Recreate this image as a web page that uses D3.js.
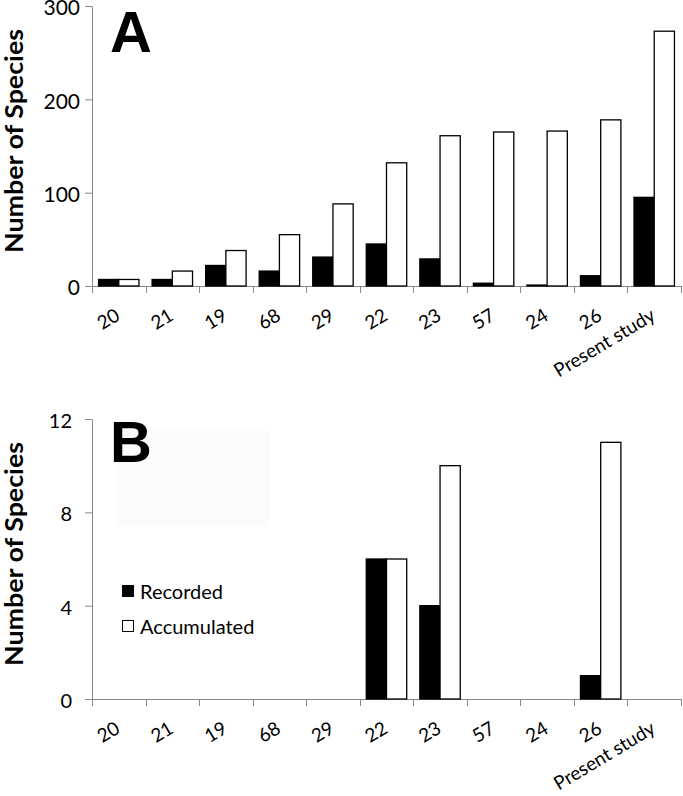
<!DOCTYPE html>
<html>
<head>
<meta charset="utf-8">
<script src="https://cdn.jsdelivr.net/npm/d3@7"></script>
<style>
  html, body { margin: 0; padding: 0; background: #fff; }
  svg { display: block; }
</style>
</head>
<body>
<script>
// ---- data ----
const categories = ["20", "21", "19", "68", "29", "22", "23", "57", "24", "26", "Present study"];
const seriesNames = ["Recorded", "Accumulated"];
const recordedA    = [7, 7, 22, 16, 31, 45, 29, 3, 1, 11, 95];
const accumulatedA = [7, 16, 38, 55, 88, 132, 161, 165, 166, 178, 273];
const recordedB    = [0, 0, 0, 0, 0, 6, 4, 0, 0, 1, 0];
const accumulatedB = [0, 0, 0, 0, 0, 6, 10, 0, 0, 11, 0];
const ticksA = [0, 100, 200, 300];
const ticksB = [0, 4, 8, 12];
const yTitle = "Number of Species";

// ---- layout ----
const W = 683, H = 796;
const AXIS_COLOR = "#888888";
const FONT = "Lato, 'Open Sans', sans-serif";

const svg = d3.select("body").append("svg").attr("width", W).attr("height", H);

const x0 = d3.scaleBand().domain(categories).range([92, 681])
  .paddingInner(0.245).paddingOuter(0.1225);
const x1 = d3.scaleBand().domain(seriesNames).range([0, x0.bandwidth()]);
const colors = d3.scaleOrdinal().domain(seriesNames).range(["#000000", "#ffffff"]);

function drawPanel(opt) {
  const g = svg.append("g");
  const y = d3.scaleLinear().domain([0, opt.ticks[opt.ticks.length - 1]])
    .range([opt.yBottom, opt.yTop]);

  // faint artifact rectangle (panel B)
  if (opt.ghost) {
    g.append("rect").attr("x", opt.ghost[0]).attr("y", opt.ghost[1])
      .attr("width", opt.ghost[2]).attr("height", opt.ghost[3]).attr("fill", "#fcfcfc");
  }

  // y axis
  const yAxis = d3.axisLeft(y).tickValues(opt.ticks).tickSize(7).tickSizeOuter(0)
    .tickPadding(opt.tickPad);
  const ya = g.append("g").attr("transform", "translate(92,0)").call(yAxis);
  ya.selectAll("path, line").attr("stroke", AXIS_COLOR);
  ya.selectAll("text").attr("font-family", FONT).attr("font-size", opt.tickFont)
    .attr("fill", "#000").attr("dy", "0.42em");

  // x axis line and tick marks at band boundaries
  const step = x0.step();
  const off = (step - x0.bandwidth()) / 2;
  const bounds = categories.map(c => x0(c) - off);
  bounds.push(bounds[bounds.length - 1] + step);
  g.append("line").attr("x1", x0.range()[0]).attr("x2", x0.range()[1])
    .attr("y1", opt.yBottom + 0.5).attr("y2", opt.yBottom + 0.5)
    .attr("stroke", AXIS_COLOR);
  g.selectAll(".xt").data(bounds).enter().append("line")
    .attr("x1", d => Math.round(d) + 0.5).attr("x2", d => Math.round(d) + 0.5)
    .attr("y1", opt.yBottom).attr("y2", opt.yBottom + 7)
    .attr("stroke", AXIS_COLOR);

  // bars
  const rows = [];
  categories.forEach((c, i) => {
    rows.push({ cat: c, s: "Recorded", v: opt.rec[i] });
    rows.push({ cat: c, s: "Accumulated", v: opt.acc[i] });
  });
  g.selectAll(".bar").data(rows.filter(d => d.v > 0)).enter().append("rect")
    .attr("x", d => x0(d.cat) + x1(d.s))
    .attr("y", d => y(d.v))
    .attr("width", x1.bandwidth())
    .attr("height", d => y(0) - y(d.v))
    .attr("fill", d => colors(d.s))
    .attr("stroke", "#000").attr("stroke-width", 1.3);

  // x labels
  g.selectAll(".xl").data(categories).enter().append("text")
    .attr("transform", c => `translate(${x0(c) + x0.bandwidth() / 2 + 2.5},${opt.yBottom + 33}) rotate(-31)`)
    .attr("text-anchor", "end")
    .attr("font-family", FONT).attr("font-size", 19).attr("fill", "#000")
    .text(c => c);

  // y title
  g.append("text")
    .attr("transform", `translate(23,${opt.titleY}) rotate(-90)`)
    .attr("text-anchor", "middle")
    .attr("font-family", FONT).attr("font-weight", "bold").attr("font-size", 24)
    .attr("textLength", 224).attr("lengthAdjust", "spacingAndGlyphs")
    .attr("fill", "#000").text(yTitle);

  // panel letter
  g.append("text").attr("x", opt.letterX).attr("y", opt.letterY)
    .attr("font-family", "'Liberation Sans', Arial, sans-serif").attr("font-weight", "bold")
    .attr("font-size", 58).attr("fill", "#000").text(opt.letter);

  return { g, y };
}

drawPanel({ rec: recordedA, acc: accumulatedA, ticks: ticksA, yTop: 6, yBottom: 286,
  tickPad: 5, tickFont: 21, titleY: 141, letter: "A", letterX: 110, letterY: 52 });

const pB = drawPanel({ rec: recordedB, acc: accumulatedB, ticks: ticksB, yTop: 419, yBottom: 699,
  tickPad: 13, tickFont: 20, titleY: 554, letter: "B", letterX: 110, letterY: 462,
  ghost: [115, 430, 155, 96] });

// legend (panel B)
const legend = pB.g.append("g");
const legY = [585, 620];
seriesNames.forEach((s, i) => {
  legend.append("rect").attr("x", 122.5).attr("y", legY[i] + 0.5).attr("width", 11).attr("height", 11)
    .attr("fill", colors(s)).attr("stroke", "#000").attr("stroke-width", 1);
  legend.append("text").attr("x", 140).attr("y", legY[i] + 13.5)
    .attr("font-family", FONT).attr("font-size", 20).attr("fill", "#000").text(s);
});
</script>
</body>
</html>
